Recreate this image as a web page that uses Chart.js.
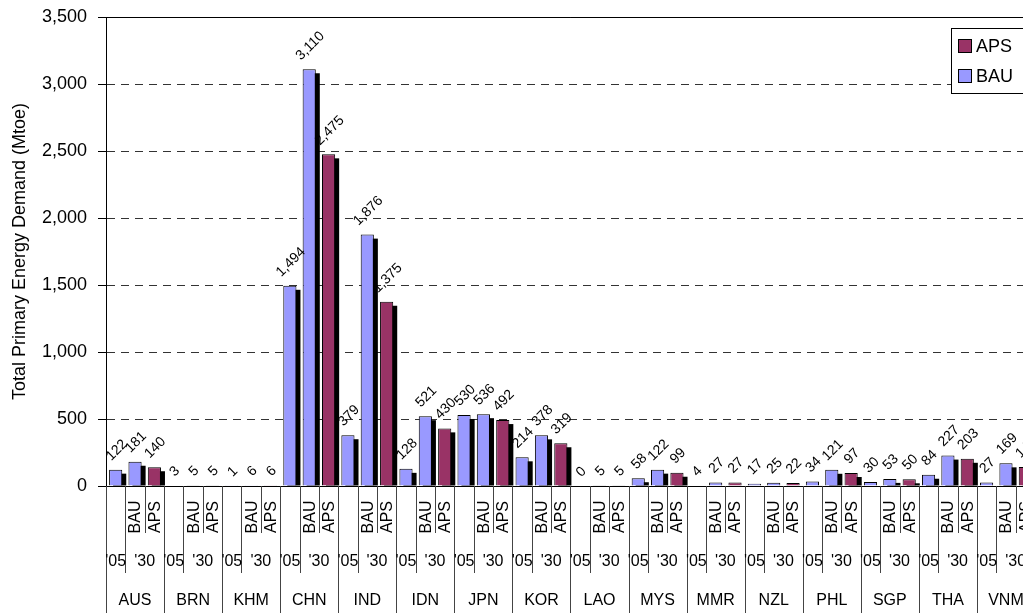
<!DOCTYPE html>
<html>
<head>
<meta charset="utf-8">
<script src="https://cdn.jsdelivr.net/npm/chart.js@4.4.1/dist/chart.umd.min.js"></script>
<style>
  html, body { margin: 0; padding: 0; background: #fff; overflow: hidden; }
</style>
</head>
<body>
<canvas id="myChart" width="1040" height="613"></canvas>
<script>
const countries = ['AUS', 'BRN', 'KHM', 'CHN', 'IND', 'IDN', 'JPN', 'KOR', 'LAO', 'MYS', 'MMR', 'NZL', 'PHL', 'SGP', 'THA', 'VNM'];
const periods = ["'05", "'30"];
const scenarios = ['BAU', 'APS'];
const demand2005 = [122, 3, 1, 1494, 379, 128, 530, 214, 0, 58, 4, 17, 34, 30, 84, 27];
const bau2030 = [181, 5, 6, 3110, 1876, 521, 536, 378, 5, 122, 27, 25, 121, 53, 227, 169];
const aps2030 = [140, 5, 6, 2475, 1375, 430, 492, 319, 5, 99, 27, 22, 97, 50, 203, 141];
const yMax = 3500;
const yStep = 500;

const FONT = '"Liberation Sans", Arial, sans-serif';

// three slots per country: '05, '30 BAU, '30 APS
let labels = [];
let bauData = [];
let apsData = [];
countries.forEach((c, i) => {
    labels.push(c + " '05", c + " '30 BAU", c + " '30 APS");
    bauData.push(demand2005[i], bau2030[i], null);
    apsData.push(null, null, aps2030[i]);
});

const data = {
    labels: labels,
    datasets: [{
        label: 'APS',
        data: apsData,
        backgroundColor: '#993366',
        borderColor: '#000',
        borderWidth: 1,
        barPercentage: 0.68,
        categoryPercentage: 1
    }, {
        label: 'BAU',
        data: bauData,
        backgroundColor: '#9999FF',
        borderColor: '#000',
        borderWidth: 1,
        barPercentage: 0.68,
        categoryPercentage: 1
    }]
};

// black drop shadow behind bars + rotated value labels
const barExtras = {
    id: 'barExtras',
    beforeDatasetsDraw(chart) {
        const {ctx, chartArea} = chart;
        ctx.save();
        ctx.beginPath();
        ctx.rect(chartArea.left, chartArea.top - 20, chartArea.right - chartArea.left + 20, chartArea.bottom - chartArea.top + 20);
        ctx.clip();
        ctx.fillStyle = '#000';
        chart.data.datasets.forEach((ds, di) => {
            chart.getDatasetMeta(di).data.forEach((bar, i) => {
                if (ds.data[i] === null) return;
                const {x, y, base, width} = bar.getProps(['x', 'y', 'base', 'width'], true);
                const h = base - y - 4;
                if (h <= 0) return;
                ctx.fillRect(x - width / 2 + 4, y + 4, width, h);
            });
        });
        ctx.restore();
    },
    afterDatasetsDraw(chart) {
        const ctx = chart.ctx;
        ctx.save();
        ctx.font = '14px ' + FONT;
        ctx.fillStyle = '#000';
        ctx.textAlign = 'center';
        ctx.textBaseline = 'middle';
        chart.data.datasets.forEach((ds, di) => {
            const meta = chart.getDatasetMeta(di);
            meta.data.forEach((bar, i) => {
                const v = ds.data[i];
                if (v === null) return;
                const txt = v.toLocaleString('en-US');
                const w = ctx.measureText(txt).width;
                const box = (w + 12) / Math.SQRT2;
                ctx.save();
                ctx.translate(bar.x + 1, bar.y - 7 - box / 2);
                ctx.rotate(-Math.PI / 4);
                ctx.fillText(txt, 0, 0);
                ctx.restore();
            });
        });
        ctx.restore();
    }
};

// category table under the axis, top frame line and legend
const axisExtras = {
    id: 'axisExtras',
    afterDraw(chart) {
        const {ctx, chartArea} = chart;
        const x = chart.scales.x;
        const slot = x.getPixelForValue(1) - x.getPixelForValue(0);
        const top = chartArea.bottom;
        const bottom = chart.height;
        const vline = (px, y1, y2) => {
            const p = Math.round(px) + 0.5;
            ctx.beginPath();
            ctx.moveTo(p, y1);
            ctx.lineTo(p, y2);
            ctx.stroke();
        };
        ctx.save();
        ctx.strokeStyle = '#444';
        ctx.lineWidth = 1;
        ctx.fillStyle = '#000';
        ctx.textAlign = 'center';
        ctx.textBaseline = 'middle';
        countries.forEach((name, c) => {
            const i = c * 3;
            const left = x.getPixelForValue(i) - slot / 2;
            vline(left, top, bottom);
            vline(left + slot, top, top + 87);
            vline(left + 2 * slot, top, top + 47);
            if (c === countries.length - 1) vline(left + 3 * slot, top, bottom);

            ctx.font = '16px ' + FONT;
            scenarios.forEach((s, k) => {
                ctx.save();
                ctx.translate(x.getPixelForValue(i + 1 + k) + 1, top + 31);
                ctx.rotate(-Math.PI / 2);
                ctx.fillText(s, 0, 0);
                ctx.restore();
            });
            ctx.fillText(periods[0], x.getPixelForValue(i), top + 76);
            ctx.fillText(periods[1], left + 2 * slot, top + 76);
            ctx.fillText(name, x.getPixelForValue(i + 1), top + 115);
        });

        // solid frame line at the top of the plot
        ctx.strokeStyle = '#000';
        ctx.beginPath();
        ctx.moveTo(chartArea.left, Math.round(chartArea.top) + 0.5);
        ctx.lineTo(chartArea.right, Math.round(chartArea.top) + 0.5);
        ctx.stroke();

        // legend box
        const lx = 951.5, ly = 28.5, lw = 72, lh = 65;
        ctx.fillStyle = '#fff';
        ctx.fillRect(lx, ly, lw, lh);
        ctx.strokeRect(lx, ly, lw, lh);
        ctx.font = '18px ' + FONT;
        ctx.textAlign = 'left';
        chart.data.datasets.forEach((ds, k) => {
            const yy = 46 + k * 30;
            ctx.fillStyle = ds.backgroundColor;
            ctx.fillRect(958.5, yy - 6.5, 13, 13);
            ctx.strokeRect(958.5, yy - 6.5, 13, 13);
            ctx.fillStyle = '#000';
            ctx.fillText(ds.label, 976, yy + 1);
        });
        ctx.restore();
    }
};

const config = {
    type: 'bar',
    data: data,
    options: {
        responsive: false,
        animation: false,
        devicePixelRatio: 1,
        layout: {padding: {top: 17, right: 5, left: 0, bottom: 0}},
        plugins: {
            legend: {display: false},
            tooltip: {enabled: false}
        },
        scales: {
            x: {
                stacked: true,
                grid: {display: false},
                ticks: {display: false},
                border: {color: '#000', width: 1},
                afterFit: (scale) => { scale.height = 127; }
            },
            y: {
                min: 0,
                max: yMax,
                grid: {
                    color: '#333',
                    tickColor: '#000',
                    tickLength: 8,
                    tickBorderDash: []
                },
                border: {color: '#000', width: 1, dash: [8, 6]},
                ticks: {
                    stepSize: yStep,
                    padding: 11,
                    color: '#000',
                    font: {family: FONT, size: 18}
                },
                title: {
                    display: true,
                    text: 'Total Primary Energy Demand (Mtoe)',
                    color: '#000',
                    font: {family: FONT, size: 18},
                    padding: {top: 9, bottom: 0}
                },
                afterFit: (scale) => {
                    scale.width = 106;
                    scale.paddingTop = 0;
                    scale.paddingBottom = 0;
                }
            }
        }
    },
    plugins: [barExtras, axisExtras]
};

const myChart = new Chart(document.getElementById('myChart'), config);
</script>
</body>
</html>
